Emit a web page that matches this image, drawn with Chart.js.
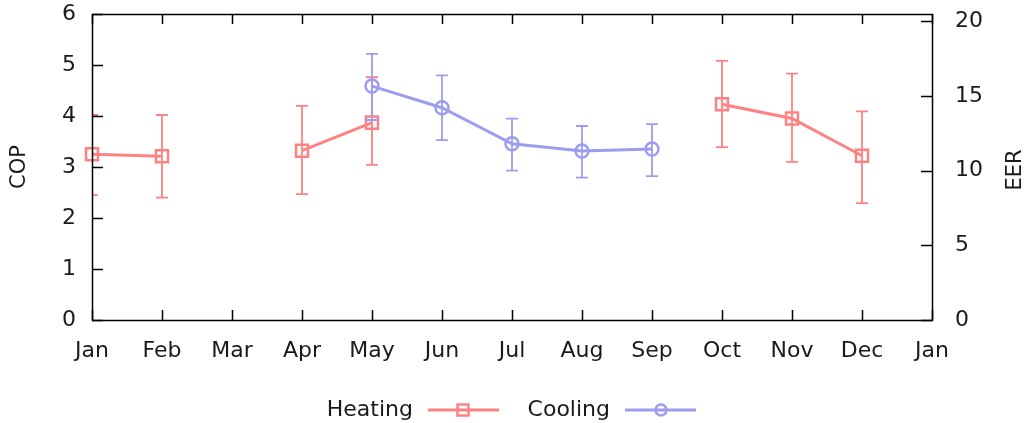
<!DOCTYPE html>
<html>
<head>
<meta charset="utf-8">
<script src="https://cdn.jsdelivr.net/npm/chart.js@4/dist/chart.umd.min.js"></script>
<style>
	html, body { margin: 0; padding: 0; background: #fff; }
	#wrap { width: 1031px; height: 423px; }
</style>
</head>
<body>
<div id="wrap"><canvas id="myChart" width="1031" height="423"></canvas></div>
<script>
var months = ["Jan", "Feb", "Mar", "Apr", "May", "Jun", "Jul", "Aug", "Sep", "Oct", "Nov", "Dec", "Jan"];

// heating, COP (left axis)
var heatingCop = [3.25, 3.21, null, 3.32, 3.87, null, null, null, null, 4.23, 3.95, 3.22, null];
var heatingLow = [2.45, 2.40, null, 2.47, 3.04, null, null, null, null, 3.39, 3.10, 2.29, null];
var heatingHigh = [4.02, 4.02, null, 4.20, 4.76, null, null, null, null, 5.08, 4.83, 4.09, null];

// cooling, EER (right axis)
var coolingEer = [null, null, null, null, 15.65, 14.20, 11.79, 11.30, 11.44, null, null, null, null];
var coolingLow = [null, null, null, null, 13.38, 12.04, 9.99, 9.52, 9.63, null, null, null, null];
var coolingHigh = [null, null, null, null, 17.81, 16.37, 13.47, 12.98, 13.11, null, null, null, null];

var copTicks = [0, 1, 2, 3, 4, 5, 6];
var eerTicks = [0, 5, 10, 15, 20];

var RED = "#ff8282";
var BLUE = "#9d9df0";
var FONT = "'DejaVu Sans', Verdana, sans-serif";

// error bars, clipped to the plot area
var errorBars = {
	id: "errorBars",
	afterDatasetsDraw: function (chart) {
		var ctx = chart.ctx;
		var area = chart.chartArea;
		var xs = chart.scales.x;
		ctx.save();
		ctx.beginPath();
		ctx.rect(area.left, area.top, area.right - area.left, area.bottom - area.top);
		ctx.clip();
		chart.data.datasets.forEach(function (ds) {
			var ys = chart.scales[ds.yAxisID];
			ctx.strokeStyle = ds.borderColor;
			ctx.lineWidth = 1.8;
			ds.errLow.forEach(function (lo, i) {
				var hi = ds.errHigh[i];
				if (lo == null || hi == null) return;
				var px = xs.getPixelForValue(i);
				var y1 = ys.getPixelForValue(lo);
				var y2 = ys.getPixelForValue(hi);
				ctx.beginPath();
				ctx.moveTo(px, y1);
				ctx.lineTo(px, y2);
				ctx.moveTo(px - 6, y1);
				ctx.lineTo(px + 6, y1);
				ctx.moveTo(px - 6, y2);
				ctx.lineTo(px + 6, y2);
				ctx.stroke();
			});
		});
		ctx.restore();
	},
};

// gnuplot-like frame with inward ticks, axis titles and legend
var frame = {
	id: "frame",
	afterDraw: function (chart) {
		var ctx = chart.ctx;
		var a = chart.chartArea;
		var xs = chart.scales.x;
		var y1 = chart.scales.y;
		var y2 = chart.scales.y2;
		ctx.save();
		ctx.strokeStyle = "#000";
		ctx.lineWidth = 1.5;
		ctx.beginPath();
		for (var i = 0; i < months.length; i++) {
			var px = Math.round(xs.getPixelForValue(i)) + 0.5;
			ctx.moveTo(px, a.bottom);
			ctx.lineTo(px, a.bottom - 10);
			ctx.moveTo(px, a.top);
			ctx.lineTo(px, a.top + 10);
		}
		copTicks.forEach(function (v) {
			var py = Math.round(y1.getPixelForValue(v)) + 0.5;
			ctx.moveTo(a.left, py);
			ctx.lineTo(a.left + 11, py);
		});
		eerTicks.forEach(function (v) {
			var py = Math.round(y2.getPixelForValue(v)) + 0.5;
			ctx.moveTo(a.right, py);
			ctx.lineTo(a.right - 11, py);
		});
		ctx.stroke();
		ctx.strokeRect(Math.round(a.left) + 0.5, Math.round(a.top) + 0.5, Math.round(a.right - a.left), Math.round(a.bottom - a.top));

		// axis titles
		ctx.fillStyle = "#1a1a1a";
		ctx.font = "21px " + FONT;
		ctx.textAlign = "center";
		ctx.textBaseline = "middle";
		var midY = (a.top + a.bottom) / 2;
		ctx.save();
		ctx.translate(20, midY);
		ctx.rotate(-Math.PI / 2);
		ctx.fillText("COP", 0, 0);
		ctx.restore();
		ctx.save();
		ctx.translate(1016, midY + 3);
		ctx.rotate(-Math.PI / 2);
		ctx.fillText("EER", 0, 0);
		ctx.restore();

		// legend
		var ly = 410;
		ctx.textAlign = "right";
		ctx.font = "22px " + FONT;
		ctx.fillText("Heating", 413, ly);
		ctx.fillText("Cooling", 610, ly);
		ctx.lineWidth = 3;
		ctx.strokeStyle = RED;
		ctx.beginPath();
		ctx.moveTo(428, ly);
		ctx.lineTo(499, ly);
		ctx.stroke();
		ctx.lineWidth = 2.5;
		ctx.strokeRect(463 - 5.5, ly - 5.5, 11, 11);
		ctx.lineWidth = 3;
		ctx.strokeStyle = BLUE;
		ctx.beginPath();
		ctx.moveTo(625, ly);
		ctx.lineTo(696, ly);
		ctx.stroke();
		ctx.lineWidth = 2.5;
		ctx.beginPath();
		ctx.arc(661, ly, 5.5, 0, Math.PI * 2);
		ctx.stroke();
		ctx.restore();
	},
};

var tickFont = { family: FONT, size: 22 };

function noPad(s) {
	s.paddingTop = 0;
	s.paddingBottom = 0;
}

new Chart(document.querySelector("#myChart").getContext("2d"), {
	type: "line",
	data: {
		labels: months,
		datasets: [
			{
				label: "Heating",
				data: heatingCop,
				errLow: heatingLow,
				errHigh: heatingHigh,
				yAxisID: "y",
				borderColor: RED,
				borderWidth: 3,
				pointStyle: "rect",
				pointRadius: 8.5,
				pointBorderWidth: 2.5,
				pointBackgroundColor: "rgba(255,255,255,0)",
				spanGaps: false,
				clip: false,
			},
			{
				label: "Cooling",
				data: coolingEer,
				errLow: coolingLow,
				errHigh: coolingHigh,
				yAxisID: "y2",
				borderColor: BLUE,
				borderWidth: 3,
				pointStyle: "circle",
				pointRadius: 6.5,
				pointBorderWidth: 2.5,
				pointBackgroundColor: "rgba(255,255,255,0)",
				spanGaps: false,
				clip: false,
			},
		],
	},
	options: {
		responsive: false,
		animation: false,
		events: [],
		layout: { padding: { top: 14, left: 0, right: 0, bottom: 0 } },
		plugins: {
			legend: { display: false },
			tooltip: { enabled: false },
		},
		scales: {
			x: {
				type: "category",
				offset: false,
				grid: { display: false, drawTicks: false },
				border: { display: false },
				ticks: { font: tickFont, color: "#1a1a1a", padding: 18, maxRotation: 0, autoSkip: false },
				afterFit: function (s) { s.height = 103; },
			},
			y: {
				position: "left",
				min: 0,
				max: 6,
				grid: { display: false, drawTicks: false },
				border: { display: false },
				ticks: { font: tickFont, color: "#1a1a1a", padding: 16 },
				afterBuildTicks: function (s) {
					s.ticks = copTicks.map(function (v) { return { value: v }; });
				},
				afterFit: function (s) { s.width = 92; noPad(s); },
			},
			y2: {
				position: "right",
				min: 0,
				max: 6 * 3.412,
				grid: { display: false, drawTicks: false },
				border: { display: false },
				ticks: { font: tickFont, color: "#1a1a1a", padding: 23 },
				afterBuildTicks: function (s) {
					s.ticks = eerTicks.map(function (v) { return { value: v }; });
				},
				afterFit: function (s) { s.width = 99; noPad(s); },
			},
		},
	},
	plugins: [errorBars, frame],
});
</script>
</body>
</html>
